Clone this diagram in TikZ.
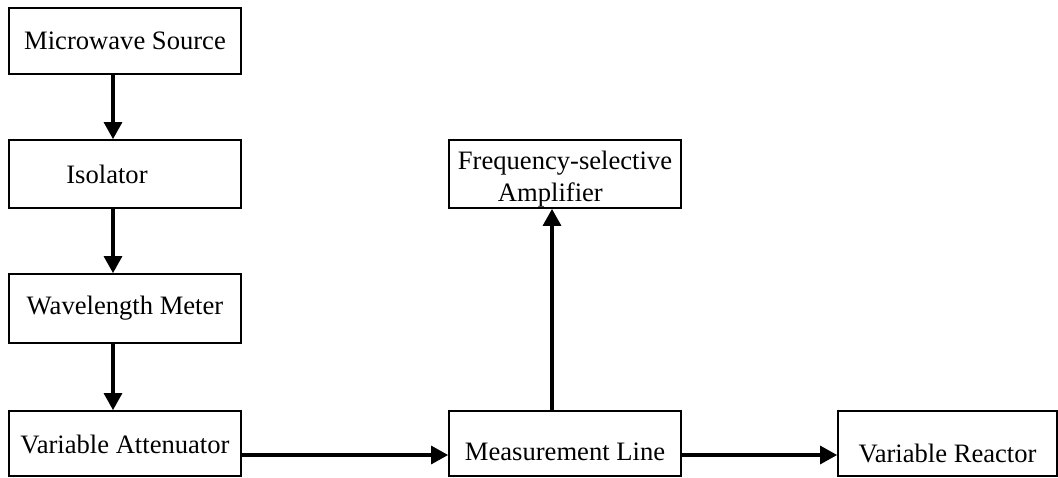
\documentclass[tikz,border=0pt]{standalone}
\usepackage{fontspec}
\setmainfont{Liberation Serif}
\usetikzlibrary{arrows.meta}
\tikzset{>={Triangle[length=8.5pt,width=9pt]}}
\tikzset{blk/.style={draw,line width=0.9pt,minimum width=116pt,
    minimum height=34pt,inner sep=0pt,font=\fontsize{13.3}{16}\selectfont}}
\tikzset{flow/.style={->,line width=1.6pt}}
\tikzset{lowtext/.style={text height=#1,text depth=0pt}}

\begin{document}
\begin{tikzpicture}[x=0.5pt,y=-0.5pt]
\useasboundingbox (0,0) rectangle (1058,477);
% Units are pixels of the source figure

% Left column
\node[blk,minimum height=33pt] (src) at (125,41) {Microwave Source};
\node[blk] (iso) at (125,174) {Isolator\hspace*{18pt}};
\node[blk,minimum height=34.5pt] (wlm) at (125,308.5) {Wavelength Meter};
\node[blk,minimum height=32.5pt,lowtext=10pt] (att) at (125,443.5)
  {Variable Attenuator};

% Bottom row and amplifier
\node[blk,minimum height=32.5pt,lowtext=16.5pt] (mline) at (565,443.5)
  {Measurement Line};
\node[blk,label={[font=\fontsize{13.3}{16}\selectfont,align=left,
    inner sep=0pt,yshift=-2.5pt]center:Frequency-selective\\\hspace*{20pt}Amplifier}]
  (amp) at (565,174) {};
\node[blk,minimum height=32.5pt,minimum width=109.5pt,lowtext=19pt] (reac)
  at (947.5,443.5) {Variable Reactor};

% Connectors
\draw[flow] ([xshift=-6pt]src.south) -- ([xshift=-6pt]iso.north);
\draw[flow] ([xshift=-6pt]iso.south) -- ([xshift=-6pt]wlm.north);
\draw[flow] ([xshift=-6pt]wlm.south) -- ([xshift=-6pt]att.north);
\draw[flow] ([yshift=-5.75pt]att.east) -- ([yshift=-5.75pt]mline.west);
\draw[flow] ([yshift=-5.75pt]mline.east) -- ([yshift=-5.75pt]reac.west);
\draw[flow] ([xshift=-6.5pt]mline.north) -- ([xshift=-6.5pt]amp.south);
\end{tikzpicture}
\end{document}
